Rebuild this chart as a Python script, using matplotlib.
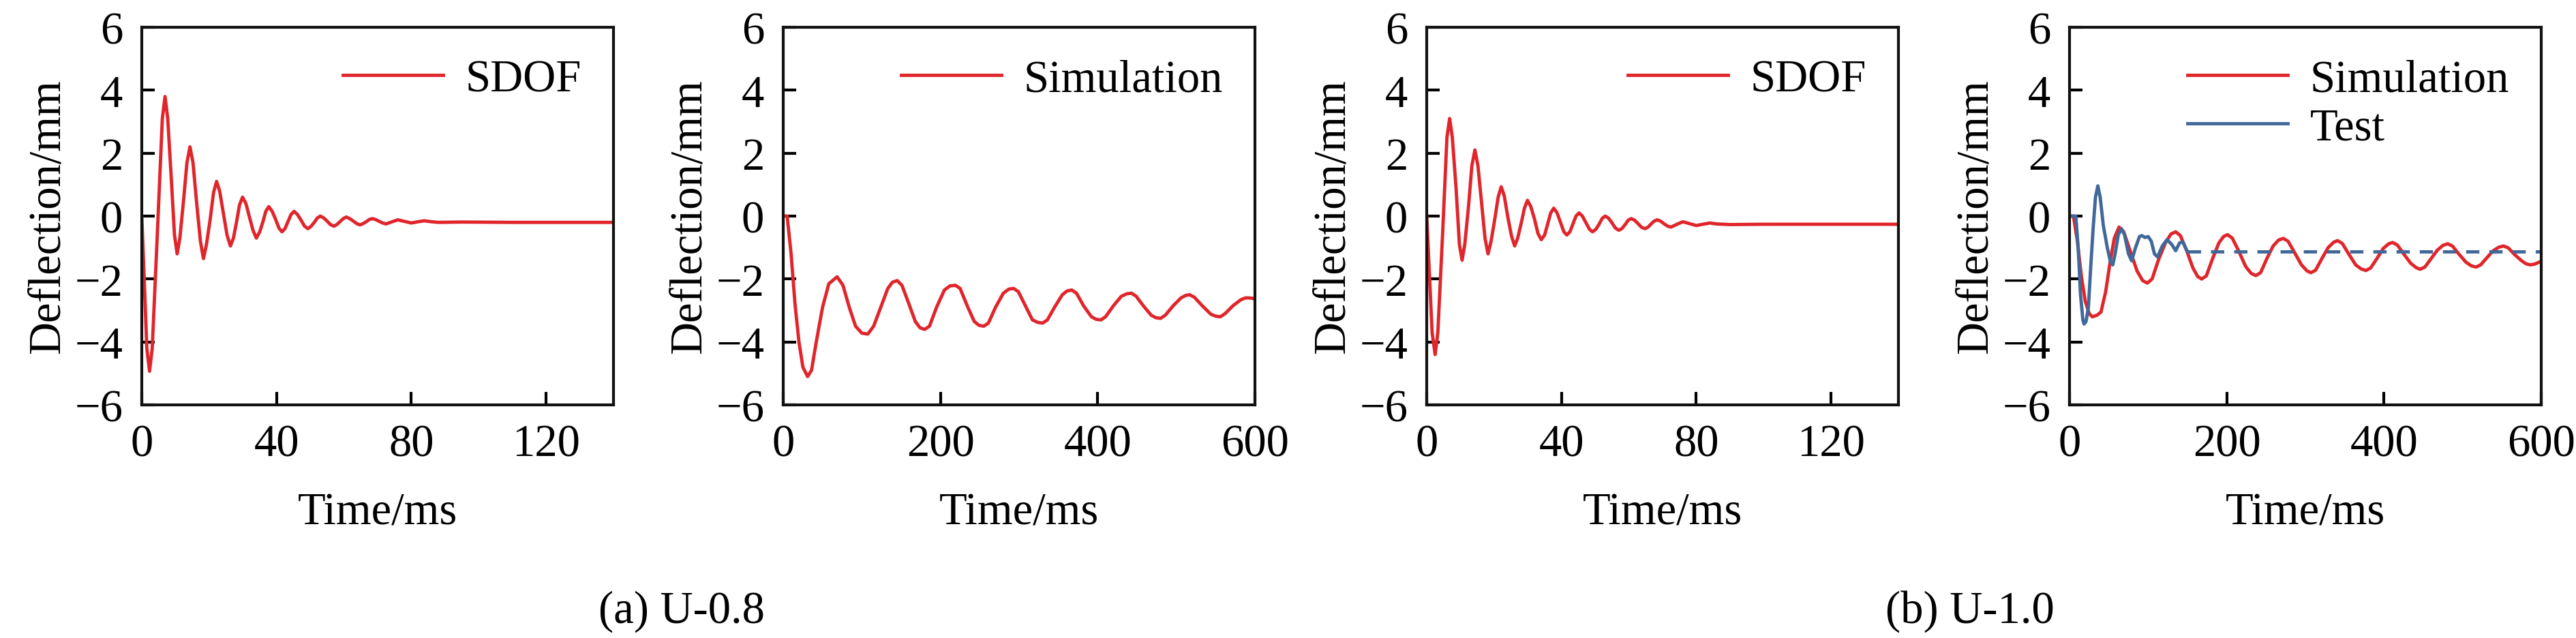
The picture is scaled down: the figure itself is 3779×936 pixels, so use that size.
import matplotlib
matplotlib.use("Agg")
import matplotlib.pyplot as plt

plt.rcParams['font.family'] = ['Liberation Serif', 'DejaVu Serif']
plt.rcParams['font.size'] = 48

RED = '#e0252b'
BLUE = '#41689a'

# (time ms, deflection mm)
sdof_a = [(0, 0), (1.5, -4.2), (2.3, -4.93), (3.1, -4.2), (4.6, -0.6), (6.1, 3.1), (6.9, 3.8), (7.7, 3.1),
          (8.7, 1.3), (9.7, -0.6), (10.5, -1.2), (11.3, -0.7), (12.4, 0.5), (13.4, 1.7), (14.3, 2.2),
          (15.2, 1.7), (16.3, 0.4), (17.4, -0.8), (18.3, -1.35), (19.2, -0.9), (20.3, -0.1), (21.3, 0.75),
          (22.2, 1.1), (23.1, 0.8), (24.2, 0.1), (25.3, -0.6), (26.3, -0.95), (27.2, -0.7), (28.1, -0.2),
          (29.0, 0.35), (29.9, 0.6), (30.9, 0.4), (32.0, -0.05), (33.0, -0.45), (34.0, -0.7), (35.0, -0.5),
          (35.9, -0.2), (36.8, 0.15), (37.7, 0.3), (38.7, 0.15), (39.7, -0.1), (40.7, -0.38), (41.6, -0.5),
          (42.5, -0.4), (43.4, -0.17), (44.3, 0.05), (45.2, 0.15), (46.2, 0.05), (47.2, -0.12),
          (48.3, -0.32), (49.3, -0.4), (50.2, -0.33), (51.2, -0.2), (52.1, -0.06), (53, 0.0), (54, -0.06),
          (55, -0.16), (56, -0.27), (57, -0.32), (57.9, -0.27), (58.9, -0.17), (59.8, -0.08), (60.7, -0.03),
          (61.7, -0.08), (62.8, -0.16), (63.8, -0.24), (64.8, -0.28), (65.7, -0.24), (66.6, -0.18),
          (67.5, -0.11), (68.4, -0.08), (69.4, -0.11), (70.5, -0.17), (71.5, -0.22), (72.5, -0.25),
          (74.3, -0.18), (76, -0.12), (78, -0.17), (80, -0.22), (82, -0.18), (83.8, -0.15), (86, -0.18),
          (88, -0.2), (95, -0.19), (110, -0.2), (140, -0.2)]

sim_a = [(0, 0), (5, 0), (10, -1.2), (15, -2.8), (20, -4.0), (25, -4.8), (31, -5.1), (36, -4.9), (42, -4.0),
         (50, -2.9), (58, -2.15), (68.5, -1.93), (76, -2.2), (84, -2.9), (92, -3.5), (100, -3.72),
         (107.5, -3.75), (115, -3.5), (124, -2.9), (133, -2.3), (139, -2.1), (145, -2.05), (151, -2.2),
         (160, -2.8), (168, -3.35), (174, -3.55), (180, -3.6), (186, -3.5), (195, -2.9), (205, -2.35),
         (212, -2.22), (219, -2.2), (225, -2.3), (234, -2.85), (243, -3.35), (249, -3.47), (255, -3.5),
         (261, -3.4), (270, -2.9), (280, -2.45), (287, -2.32), (293, -2.3), (299, -2.4), (308, -2.85),
         (317, -3.3), (324, -3.38), (330, -3.4), (336, -3.3), (345, -2.9), (355, -2.5), (361, -2.38),
         (367, -2.35), (373, -2.45), (382, -2.85), (392, -3.2), (398, -3.28), (404, -3.3), (410, -3.2),
         (420, -2.85), (430, -2.55), (437, -2.47), (443, -2.45), (449, -2.55), (458, -2.85), (468, -3.15),
         (474, -3.23), (480, -3.25), (486, -3.15), (496, -2.85), (506, -2.6), (512, -2.52), (517, -2.5),
         (523, -2.58), (533, -2.85), (544, -3.12), (550, -3.18), (556, -3.2), (562, -3.1), (572, -2.85),
         (582, -2.66), (588, -2.6), (592, -2.6), (596, -2.61), (600, -2.63)]

sdof_b = [(0, 0), (1.6, -3.7), (2.5, -4.4), (3.3, -3.7), (4.7, -0.6), (6.0, 2.5), (6.8, 3.1), (7.6, 2.5),
          (8.7, 0.9), (9.7, -0.9), (10.5, -1.4), (11.3, -0.9), (12.4, 0.3), (13.4, 1.6), (14.3, 2.1),
          (15.2, 1.6), (16.3, 0.4), (17.3, -0.7), (18.2, -1.2), (19.1, -0.8), (20.2, -0.1), (21.2, 0.6),
          (22.1, 0.93), (23.0, 0.65), (24.1, -0.05), (25.2, -0.65), (26.1, -0.95), (27.0, -0.7),
          (28.1, -0.2), (29.0, 0.25), (29.9, 0.5), (30.9, 0.3), (32, -0.1), (33, -0.55), (34, -0.75),
          (35, -0.6), (35.9, -0.25), (36.8, 0.1), (37.7, 0.25), (38.7, 0.1), (39.7, -0.2), (40.7, -0.5),
          (41.6, -0.6), (42.5, -0.5), (43.4, -0.25), (44.3, 0.0), (45.2, 0.1), (46.2, 0.0), (47.2, -0.2),
          (48.3, -0.42), (49.2, -0.5), (50.2, -0.42), (51.2, -0.25), (52.1, -0.07), (53, 0.0), (54, -0.07),
          (55, -0.22), (56, -0.38), (57, -0.45), (57.9, -0.4), (58.9, -0.27), (59.8, -0.13), (60.7, -0.08),
          (61.7, -0.13), (62.8, -0.25), (63.8, -0.36), (64.8, -0.4), (65.7, -0.35), (66.6, -0.25),
          (67.5, -0.16), (68.4, -0.12), (69.4, -0.16), (70.5, -0.25), (71.5, -0.32), (72.5, -0.35),
          (74.3, -0.26), (76, -0.18), (78, -0.24), (80, -0.3), (82, -0.26), (84, -0.22), (86, -0.25),
          (90, -0.27), (100, -0.26), (140, -0.26)]

sim_b = [(0, 0), (5, 0), (10, -0.8), (15, -1.9), (20, -2.7), (25, -3.1), (29, -3.2), (35, -3.15), (40, -3.05),
         (46, -2.4), (52, -1.4), (57, -0.7), (63, -0.35), (69, -0.5), (77, -1.1), (86, -1.75), (93, -2.05),
         (99, -2.13), (105, -2.0), (113, -1.4), (122, -0.85), (129, -0.57), (135, -0.5), (141, -0.62),
         (149, -1.1), (157, -1.65), (163, -1.92), (168, -2.0), (174, -1.9), (182, -1.35), (190, -0.85),
         (196, -0.65), (201, -0.59), (207, -0.7), (215, -1.1), (224, -1.6), (231, -1.82), (237, -1.89),
         (243, -1.8), (251, -1.35), (259, -0.95), (266, -0.76), (272, -0.71), (278, -0.8), (286, -1.15),
         (295, -1.55), (302, -1.74), (307, -1.8), (313, -1.72), (321, -1.35), (329, -1.0), (336, -0.83),
         (341, -0.78), (347, -0.87), (355, -1.2), (364, -1.55), (371, -1.68), (377, -1.73), (383, -1.65),
         (391, -1.35), (399, -1.03), (406, -0.88), (411, -0.84), (417, -0.92), (425, -1.2), (434, -1.5),
         (441, -1.64), (446, -1.69), (452, -1.62), (460, -1.35), (468, -1.08), (475, -0.93), (481, -0.88),
         (487, -0.95), (495, -1.2), (504, -1.46), (511, -1.58), (517, -1.62), (523, -1.55), (531, -1.32),
         (539, -1.1), (546, -0.99), (552, -0.95), (558, -1.01), (566, -1.22), (575, -1.42), (581, -1.52),
         (586, -1.55), (591, -1.53), (596, -1.48), (600, -1.43)]

test_b = [(0, 0), (8, 0), (11, -1.0), (14, -2.5), (17, -3.3), (18.5, -3.43), (21, -3.35), (24, -2.9),
          (27, -1.6), (30, -0.4), (33, 0.6), (36, 0.96), (39, 0.6), (43, -0.3), (48, -1.0), (52, -1.45),
          (55, -1.55), (58, -1.2), (62, -0.6), (66, -0.4), (70, -0.6), (75, -1.2), (79, -1.42), (84, -1.0),
          (89, -0.65), (92, -0.62), (96, -0.68), (100, -0.65), (104, -0.8), (108, -1.2), (112, -1.3),
          (118, -0.95), (124, -0.75), (130, -0.9), (135, -1.1), (140, -0.85), (144, -0.82), (150, -1.13)]
test_final = -1.13

W, H = 3780, 937
fig = plt.figure(figsize=(W / 100, H / 100), dpi=100)

lefts = [208, 1149, 2093, 3036]
aw, top, bot = 692, 41, 595


def make_ax(left, xmax, xticks):
    ax = fig.add_axes([left / W, 1 - bot / H, aw / W, (bot - top) / H])
    ax.set_xlim(0, xmax)
    ax.set_ylim(-6, 6)
    ax.set_xticks(xticks)
    ax.set_yticks(range(-6, 7, 2))
    ax.set_yticklabels(['\u22126', '\u22124', '\u22122', '0', '2', '4', '6'])
    ax.tick_params(direction='in', length=14, width=3, pad=20, labelsize=48)
    for s in ax.spines.values():
        s.set_linewidth(3)
        s.set_color('#111111')
    ax.set_xlabel('Time/ms', fontsize=48, labelpad=28)
    ax.set_ylabel('Deflection/mm', fontsize=48, labelpad=6)
    return ax


def draw(ax, pts, **kw):
    t, y = zip(*pts)
    ax.plot(t, y, lw=3.5, **kw)


def legend(ax):
    ax.legend(loc='upper right', frameon=False, fontsize=48, handlelength=2.2,
              handletextpad=0.5, labelspacing=0.15, borderaxespad=0.3)


ax1 = make_ax(lefts[0], 140, [0, 40, 80, 120])
draw(ax1, sdof_a, color=RED, label='SDOF')
legend(ax1)

ax2 = make_ax(lefts[1], 600, [0, 200, 400, 600])
draw(ax2, sim_a, color=RED, label='Simulation')
legend(ax2)

ax3 = make_ax(lefts[2], 140, [0, 40, 80, 120])
draw(ax3, sdof_b, color=RED, label='SDOF')
legend(ax3)

ax4 = make_ax(lefts[3], 600, [0, 200, 400, 600])
draw(ax4, sim_b, color=RED, label='Simulation')
draw(ax4, test_b, color=BLUE, label='Test')
ax4.plot([test_b[-1][0], 600], [test_final, test_final], color=BLUE, lw=3.5, ls=(0, (4, 3)))
legend(ax4)

fig.text(1000 / W, 1 - 897 / H, '(a) U-0.8', ha='center', va='center', fontsize=48)
fig.text(2890 / W, 1 - 897 / H, '(b) U-1.0', ha='center', va='center', fontsize=48)

fig.savefig('out.png', dpi=100)
